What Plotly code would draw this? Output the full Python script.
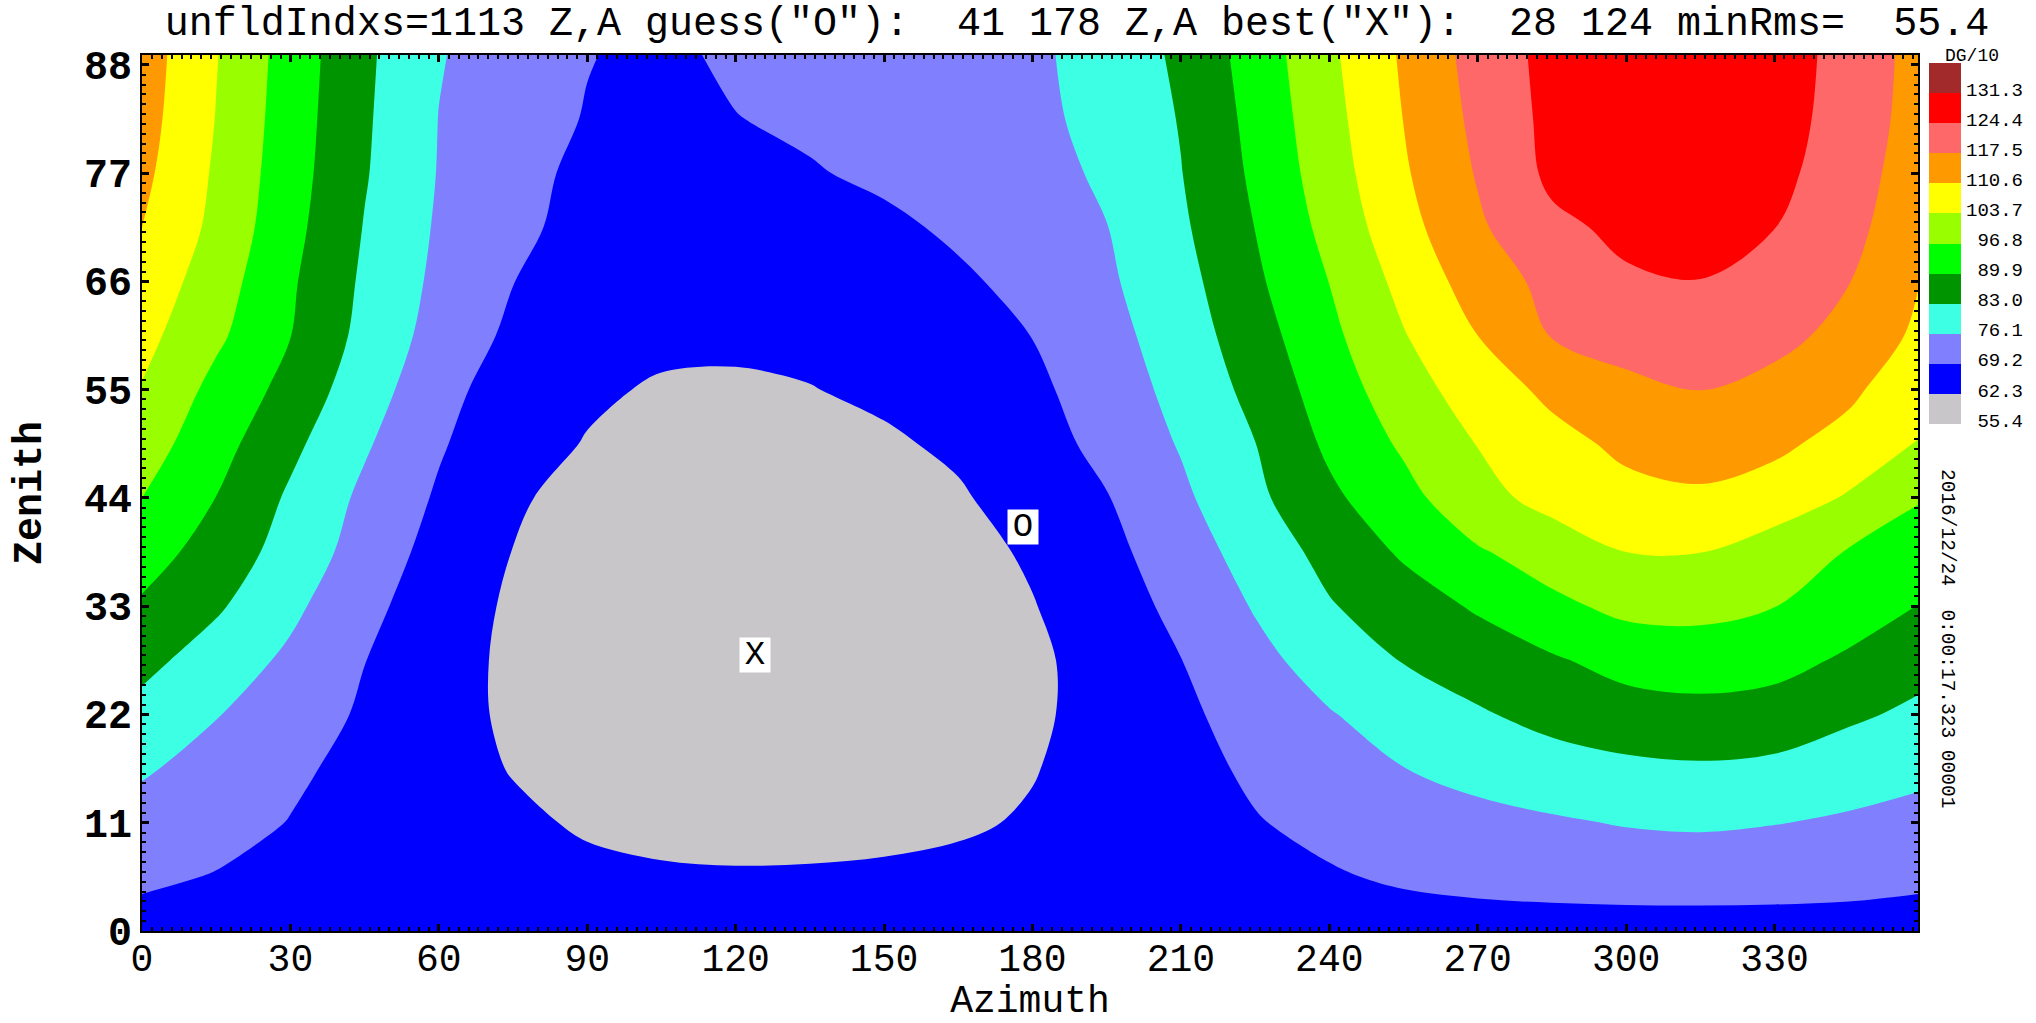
import plotly.graph_objects as go

# ---- grid of the RMS map: azimuth columns and zenith rows (degrees) ----
azimuth = [0, 15, 30, 45, 60, 75, 90, 105, 120, 135, 150, 165, 180,
           195, 210, 225, 240, 255, 270, 285, 300, 315, 330, 345, 359]
zenith = [0, 5.5, 11, 16.5, 22, 27.5, 33, 38.5, 44, 49.5, 55, 60.5,
          66, 71.5, 77, 82.5, 89]

# RMS values (DG/10), one list per zenith row, ordered like `azimuth`
rms_zen_00_0 = [66.8, 66.8, 66.8, 66.8, 66.8, 66.8, 66.8, 66.8, 66.8, 66.8, 66.8, 66.8, 66.8,
                66.8, 66.8, 66.8, 66.8, 66.8, 66.8, 66.8, 66.8, 66.8, 66.8, 66.8, 66.8]
rms_zen_05_5 = [70.3, 68.9, 67.6, 66.4, 65.3, 64.3, 63.6, 63.1, 62.9, 63.0, 63.3, 63.8, 64.4,
                65.2, 66.2, 67.4, 68.7, 69.9, 70.8, 71.4, 71.8, 71.9, 71.7, 71.2, 70.3]
rms_zen_11_0 = [73.5, 71.4, 69.0, 67.1, 65.3, 63.4, 61.6, 60.5, 60.0, 60.1, 60.6, 61.5, 62.9,
                64.9, 66.9, 68.9, 70.6, 72.2, 73.9, 75.3, 76.5, 77.0, 76.3, 75.3, 74.0]
rms_zen_16_5 = [76.9, 73.5, 70.3, 67.4, 64.7, 62.0, 59.7, 58.2, 57.6, 57.7, 58.5, 60.1, 62.0,
                64.7, 67.4, 70.1, 73.0, 76.0, 78.5, 80.3, 81.6, 82.2, 81.5, 79.0, 77.7]
rms_zen_22_0 = [80.9, 76.4, 72.3, 68.4, 64.7, 61.2, 58.2, 56.6, 56.0, 56.2, 57.0, 58.7, 61.2,
                64.7, 68.0, 71.7, 75.7, 79.1, 82.3, 85.0, 87.0, 87.8, 87.0, 84.2, 81.6]
rms_zen_27_5 = [84.9, 79.9, 74.8, 69.3, 65.0, 61.0, 57.5, 55.9, 55.5, 55.6, 56.5, 58.3, 61.0,
                65.1, 69.1, 74.2, 79.0, 83.3, 86.2, 89.1, 92.3, 93.3, 92.2, 88.9, 85.5]
rms_zen_33_0 = [89.0, 83.9, 77.6, 70.9, 65.8, 61.3, 57.8, 56.2, 55.7, 55.9, 56.8, 58.8, 62.0,
                66.2, 70.8, 76.6, 82.5, 86.6, 90.7, 95.2, 98.5, 98.7, 96.9, 93.3, 89.8]
rms_zen_38_5 = [92.9, 87.0, 80.3, 73.2, 66.8, 62.2, 58.8, 57.2, 56.5, 56.8, 57.8, 60.0, 63.2,
                67.4, 72.7, 79.0, 85.1, 90.8, 96.1, 100.1, 103.7, 103.8, 100.3, 96.4, 93.5]
rms_zen_44_0 = [96.8, 89.8, 82.0, 74.7, 68.4, 63.0, 60.5, 59.5, 58.8, 59.0, 59.8, 61.6, 65.1,
                68.9, 74.8, 81.5, 88.5, 94.6, 101.6, 105.8, 108.7, 109.6, 107.5, 103.0, 97.3]
rms_zen_49_5 = [100.1, 92.4, 84.6, 76.9, 69.9, 64.6, 62.0, 60.6, 60.1, 60.4, 61.4, 63.4, 66.5,
                71.0, 76.6, 82.9, 91.2, 97.8, 103.9, 108.5, 112.0, 113.5, 112.0, 108.2, 103.5]
rms_zen_55_0 = [103.3, 94.8, 87.7, 79.0, 71.9, 65.2, 63.2, 61.7, 61.5, 62.1, 63.5, 66.2, 67.8,
                72.4, 78.2, 84.9, 93.3, 100.6, 107.1, 112.1, 115.7, 117.7, 115.0, 112.0, 106.0]
rms_zen_60_5 = [105.8, 98.1, 90.0, 81.0, 73.5, 67.9, 65.2, 63.6, 63.4, 63.9, 64.7, 66.7, 69.3,
                73.9, 79.4, 86.9, 95.2, 103.3, 110.6, 117.8, 120.5, 121.3, 119.9, 115.0, 109.5]
rms_zen_66_0 = [108.2, 100.1, 90.8, 81.9, 74.6, 69.3, 66.3, 64.8, 64.4, 64.6, 65.6, 68.0, 71.4,
                75.1, 80.6, 88.7, 96.9, 105.7, 113.8, 119.5, 123.6, 124.3, 121.1, 117.7, 110.8]
rms_zen_71_5 = [110.6, 102.0, 92.0, 82.7, 75.3, 70.8, 66.9, 65.1, 64.9, 65.6, 67.6, 70.5, 73.3,
                76.0, 81.9, 90.0, 98.9, 108.2, 116.5, 123.0, 125.8, 126.6, 124.5, 119.5, 113.0]
rms_zen_77_0 = [112.2, 102.8, 92.8, 83.5, 75.8, 71.6, 67.5, 65.5, 65.5, 68.6, 70.7, 72.6, 74.5,
                76.8, 82.8, 91.1, 100.4, 109.8, 118.0, 125.8, 128.3, 128.6, 126.2, 120.9, 113.8]
rms_zen_82_5 = [113.3, 103.5, 93.3, 83.9, 76.0, 72.4, 68.8, 66.3, 69.0, 70.6, 72.0, 73.5, 75.0,
                77.5, 83.4, 91.9, 101.4, 110.7, 119.1, 126.2, 128.9, 129.2, 126.7, 122.1, 114.5]
rms_zen_89_0 = [114.0, 104.0, 93.8, 84.3, 76.5, 72.9, 69.5, 67.5, 70.6, 71.6, 72.8, 74.0, 75.2,
                78.1, 84.4, 92.8, 102.4, 111.5, 120.1, 126.5, 129.3, 129.6, 127.0, 122.5, 115.0]

rms_grid = [rms_zen_00_0, rms_zen_05_5, rms_zen_11_0, rms_zen_16_5, rms_zen_22_0,
            rms_zen_27_5, rms_zen_33_0, rms_zen_38_5, rms_zen_44_0, rms_zen_49_5,
            rms_zen_55_0, rms_zen_60_5, rms_zen_66_0, rms_zen_71_5, rms_zen_77_0,
            rms_zen_82_5, rms_zen_89_0]

# contour levels shown on the colour key and the colour of the band above each
level_values = [55.4, 62.3, 69.2, 76.1, 83.0, 89.9, 96.8, 103.7, 110.6, 117.5, 124.4, 131.3]
level_colors = ["#c8c6c8", "#0000ff", "#8080ff", "#3cffe4", "#009400", "#00ff00",
                "#99ff00", "#ffff00", "#ff9900", "#ff6868", "#ff0000", "#a32a2a"]

# fit results
unfold_index = 1113
guess_zen, guess_az = 41, 178
best_zen, best_az = 28, 124
min_rms = 55.4
stamp_text = "2016/12/24\u00a0 0:00:17.323 00001"

az_ticks = [0, 30, 60, 90, 120, 150, 180, 210, 240, 270, 300, 330]
zen_ticks = [0, 11, 22, 33, 44, 55, 66, 77, 88]

MONO = "Liberation Mono, DejaVu Sans Mono, monospace"

# ---- colour scales ----
n_lev = len(level_values)
level_step = round(level_values[1] - level_values[0], 1)
# contour fills are sampled at level + step/2 -> positions k/n_lev
contour_scale = [[0.0, level_colors[0]]] + [
    [(k + 1) / n_lev, c] for k, c in enumerate(level_colors)]
# stepped scale for the key
key_scale = []
for k, c in enumerate(level_colors):
    key_scale.append([k / n_lev, c])
    key_scale.append([(k + 1) / n_lev, c])

fig = go.Figure()

fig.add_trace(go.Contour(
    x=azimuth, y=zenith, z=rms_grid,
    autocontour=False,
    contours=dict(start=level_values[0], end=level_values[-1], size=level_step,
                  coloring="fill", showlines=False),
    colorscale=contour_scale,
    line=dict(width=0, smoothing=1.0),
    showscale=False,
    hoverinfo="skip",
    xaxis="x", yaxis="y",
))

# colour key drawn as a one-column heatmap on its own axes
band_mid = [round(v + level_step / 2, 2) for v in level_values]
fig.add_trace(go.Heatmap(
    x=[0.5], y=[k + 0.5 for k in range(n_lev)],
    z=[[m] for m in band_mid],
    zmin=level_values[0], zmax=level_values[-1] + level_step,
    colorscale=key_scale, showscale=False, hoverinfo="skip",
    xaxis="x2", yaxis="y2",
))

key_text = [("\u00a0" if v < 100 else "") + f"{v:.1f}" for v in level_values]

# ---- geometry (pixels) ----
W, H = 2036, 1023
ML, MR, MT, MB = 142, 10, 55, 92
PW = W - ML - MR
PH = H - MT - MB
plot_right = 1918
key_left, key_right, key_top, key_bottom = 1929, 1961, 63, 424


def px_x(p):
    return (p - ML) / PW


def px_y(p):
    return (H - MB - p) / PH


axis_font = dict(family=MONO, size=38, color="black")

fig.update_layout(
    width=W, height=H,
    margin=dict(l=ML, r=MR, t=MT, b=MB, pad=0, autoexpand=False),
    paper_bgcolor="white", plot_bgcolor="white",
    showlegend=False,
    title=dict(
        text=(f"unfldIndxs={unfold_index} Z,A guess(\"O\"):\u00a0 {guess_zen} {guess_az} "
              f"Z,A best(\"X\"):\u00a0 {best_zen} {best_az} minRms=\u00a0 {min_rms}"),
        font=dict(family=MONO, size=40, color="black"),
        xref="container", x=1077 / W, xanchor="center",
        yref="container", y=1 - 21 / H, yanchor="middle",
    ),
    xaxis=dict(
        domain=[0, px_x(plot_right)], range=[0, 359], automargin=False,
        tickvals=az_ticks, ticks="inside", ticklen=7, tickwidth=3, tickcolor="black",
        showline=True, linewidth=2, linecolor="black", mirror="ticks",
        showgrid=False, zeroline=False,
        minor=dict(dtick=2, tick0=0, ticks="inside", ticklen=4, tickwidth=1.5,
                   tickcolor="black", showgrid=False),
        tickfont=axis_font, ticklabelstandoff=-8,
        title=dict(text="Azimuth", font=axis_font, standoff=2),
    ),
    yaxis=dict(
        domain=[0, 1], range=[0, 89], automargin=False,
        tickvals=zen_ticks, ticks="inside", ticklen=7, tickwidth=3, tickcolor="black",
        showline=True, linewidth=2, linecolor="black", mirror="ticks",
        showgrid=False, zeroline=False,
        minor=dict(dtick=1, tick0=0, ticks="inside", ticklen=4, tickwidth=1.5,
                   tickcolor="black", showgrid=False),
        tickfont=dict(family=MONO, size=40, color="black", weight="bold"),
        ticklabelstandoff=0,
        title=dict(text="Zenith", font=dict(family=MONO, size=40, color="black", weight="bold"),
                   standoff=30),
    ),
    xaxis2=dict(
        domain=[px_x(key_left), px_x(key_right)], range=[0, 1], anchor="y2",
        visible=False, fixedrange=True, automargin=False,
    ),
    yaxis2=dict(
        domain=[px_y(key_bottom), px_y(key_top)], range=[0, n_lev], anchor="x2",
        side="right", showline=False, showgrid=False, zeroline=False, ticks="",
        tickvals=list(range(n_lev)), ticktext=key_text, automargin=False,
        tickfont=dict(family=MONO, size=19, color="black"),
        ticklabelstandoff=4, ticklabelshift=-4, fixedrange=True,
    ),
)

annotations = [
    # best fit and starting guess markers
    dict(x=best_az, y=best_zen, xref="x", yref="y", text="X", showarrow=False,
         font=dict(family=MONO, size=34, color="black"), bgcolor="white",
         width=30, height=34, borderpad=0, xanchor="center", yanchor="middle"),
    dict(x=guess_az, y=guess_zen, xref="x", yref="y", text="O", showarrow=False,
         font=dict(family=MONO, size=34, color="black"), bgcolor="white",
         width=30, height=34, borderpad=0, xanchor="center", yanchor="middle"),
    # unit label above the colour key
    dict(x=px_x(1972), y=px_y(56), xref="paper", yref="paper", text="DG/10",
         showarrow=False, font=dict(family=MONO, size=18, color="black"),
         xanchor="center", yanchor="middle"),
    # time stamp along the right side
    dict(x=px_x(1947), y=px_y(638), xref="paper", yref="paper", text=stamp_text,
         textangle=90, showarrow=False, font=dict(family=MONO, size=19.5, color="black"),
         xanchor="center", yanchor="middle"),
]
fig.update_layout(annotations=annotations)

fig.write_html("out.html", config={"displayModeBar": False})
